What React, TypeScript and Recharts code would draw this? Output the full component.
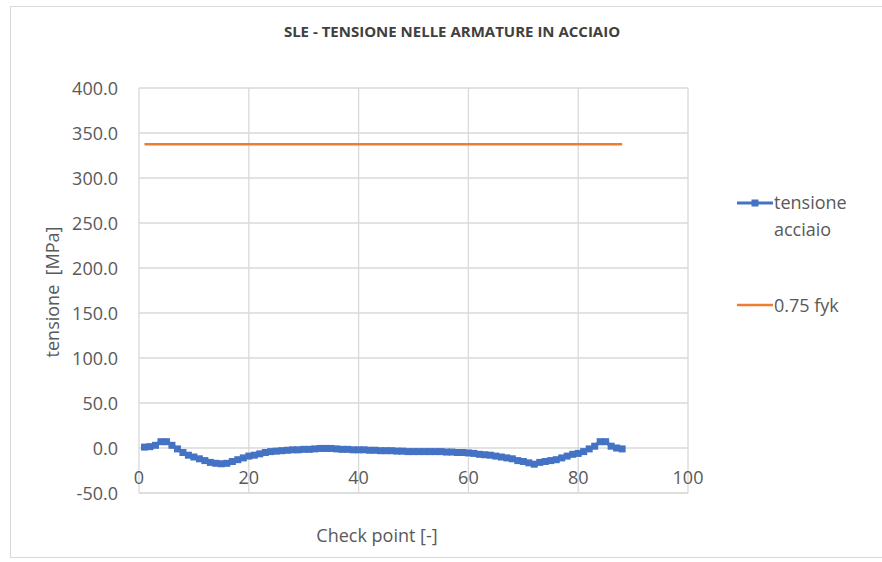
import React from "react";
import { LineChart, Line, XAxis, YAxis, CartesianGrid } from "recharts";

const checkPoints: number[] = Array.from({ length: 88 }, (_, i) => i + 1);
const tensioneAcciaio: number[] = [
  1, 1.5, 3, 7, 7, 3, -1, -5, -8, -10,
  -12, -14, -16, -17, -17.5, -17, -15, -13, -11, -9,
  -8, -6.5, -5, -4, -3.5, -3, -2.5, -2, -2, -1.5,
  -1.5, -1, -0.5, -0.5, -0.5, -1, -1.5, -1.5, -2, -2,
  -2, -2.5, -2.5, -3, -3, -3, -3.5, -3.5, -4, -4,
  -4, -4, -4, -4, -4, -4.5, -4.5, -5, -5, -5.5,
  -6, -7, -7.5, -8, -9, -10, -11, -12, -14, -15,
  -16.5, -18, -16, -15, -14, -13, -11, -9, -7, -6,
  -4, -1, 2, 7, 7, 2, 0, -1,
];
const fykLimit: number[] = checkPoints.map(() => 337.5);
const xTicks: number[] = [0, 20, 40, 60, 80, 100];
const yTicks: number[] = [-50, 0, 50, 100, 150, 200, 250, 300, 350, 400];

const data = checkPoints.map((cp, i) => ({
  cp,
  tensione: tensioneAcciaio[i],
  fyk: fykLimit[i],
}));

const FONT = "'Open Sans', 'DejaVu Sans', sans-serif";
const TXT = "#595959";
const BLUE = "#4472C4";
const ORANGE = "#ED7D31";
const FS = 18;

const XTick = (props: any) => {
  const { x, y, payload } = props;
  return (
    <text x={x} y={y - 24} textAnchor="middle" dominantBaseline="central" fill={TXT} fontSize={FS} fontFamily={FONT}>
      {payload.value}
    </text>
  );
};

const YTick = (props: any) => {
  const { x, y, payload } = props;
  return (
    <text x={x} y={y} textAnchor="end" dominantBaseline="central" fill={TXT} fontSize={FS} fontFamily={FONT}>
      {Number(payload.value).toFixed(1)}
    </text>
  );
};

const LegendBox = () => (
  <div style={{ position: "absolute", left: 734, top: 189, width: 148, fontFamily: FONT, fontSize: FS, color: TXT }}>
    <div style={{ display: "flex", alignItems: "flex-start" }}>
      <svg width={40} height={28} style={{ flexShrink: 0 }}>
        <line x1={3} y1={14} x2={39} y2={14} stroke={BLUE} strokeWidth={3} />
        <rect x={17.5} y={10.5} width={7} height={7} fill={BLUE} />
      </svg>
      <div style={{ lineHeight: "27px", marginTop: 0 }}>
        tensione
        <br />
        acciaio
      </div>
    </div>
    <div style={{ display: "flex", alignItems: "center", marginTop: 48 }}>
      <svg width={40} height={28} style={{ flexShrink: 0 }}>
        <line x1={3} y1={14} x2={39} y2={14} stroke={ORANGE} strokeWidth={2.5} />
      </svg>
      <div>0.75 fyk</div>
    </div>
  </div>
);

export default function App() {
  return (
    <div style={{ position: "absolute", left: 0, top: 0, width: 882, height: 562, background: "#fff", overflow: "hidden" }}>
      <div
        style={{
          position: "absolute",
          left: 10,
          top: 6,
          width: 900,
          height: 550,
          borderLeft: "1px solid #d9d9d9",
          borderTop: "1px solid #d9d9d9",
          borderBottom: "1px solid #d9d9d9",
        }}
      />
      <div
        style={{
          position: "absolute",
          left: 0,
          width: 904,
          top: 21,
          textAlign: "center",
          fontFamily: FONT,
          fontWeight: 700,
          fontSize: 15,
          color: "#404040",
        }}
      >
        SLE - TENSIONE NELLE ARMATURE IN ACCIAIO
      </div>
      <LineChart
        width={882}
        height={562}
        data={data}
        margin={{ top: 88, right: 194, bottom: 0, left: 12 }}
        style={{ position: "absolute", left: 0, top: 0 }}
      >
        <CartesianGrid stroke="#d9d9d9" strokeWidth={1.3} />
        <XAxis
          dataKey="cp"
          type="number"
          domain={[0, 100]}
          ticks={xTicks}
          tick={<XTick />}
          tickLine={false}
          axisLine={{ stroke: "#d9d9d9" }}
          height={69}
          label={{
            content: (p: any) => {
              const vb = p.viewBox;
              return (
                <text x={377} y={vb.y + 42} textAnchor="middle" dominantBaseline="central" fill={TXT} fontSize={FS} fontFamily={FONT}>
                  Check point [-]
                </text>
              );
            },
          }}
        />
        <YAxis
          type="number"
          domain={[-50, 400]}
          ticks={yTicks}
          tick={<YTick />}
          tickLine={false}
          axisLine={false}
          tickSize={0}
          tickMargin={21}
          width={127}
          label={{
            content: (p: any) => {
              const cx = 52;
              const cy = 292;
              return (
                <text x={cx} y={cy} transform={`rotate(-90, ${cx}, ${cy})`} textAnchor="middle" dominantBaseline="central" fill={TXT} fontSize={FS} fontFamily={FONT} style={{ whiteSpace: "pre" }}>
                  {"tensione  [MPa]"}
                </text>
              );
            },
          }}
        />
        <Line
          type="linear"
          dataKey="tensione"
          name="tensione acciaio"
          stroke={BLUE}
          strokeWidth={3.5}
          isAnimationActive={false}
          dot={(p: any) => <rect key={p.index} x={p.cx - 3.5} y={p.cy - 3.5} width={7} height={7} fill={BLUE} />}
        />
        <Line
          type="linear"
          dataKey="fyk"
          name="0.75 fyk"
          stroke={ORANGE}
          strokeWidth={2.5}
          dot={false}
          isAnimationActive={false}
        />
      </LineChart>
      <LegendBox />
    </div>
  );
}
